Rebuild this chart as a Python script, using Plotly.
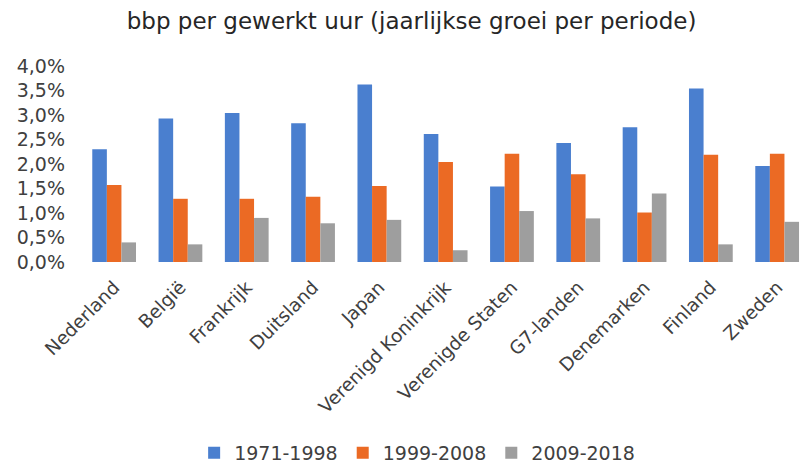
import plotly.graph_objects as go

categories = ["Nederland", "België", "Frankrijk", "Duitsland", "Japan",
              "Verenigd Koninkrijk", "Verenigde Staten", "G7-landen",
              "Denemarken", "Finland", "Zweden"]
s1971_1998 = [2.30, 2.93, 3.04, 2.83, 3.62, 2.61, 1.54, 2.43, 2.75, 3.54, 1.96]
s1999_2008 = [1.57, 1.29, 1.29, 1.33, 1.55, 2.04, 2.21, 1.79, 1.01, 2.19, 2.21]
s2009_2018 = [0.40, 0.36, 0.90, 0.79, 0.86, 0.24, 1.04, 0.89, 1.40, 0.36, 0.82]
series_names = ["1971-1998", "1999-2008", "2009-2018"]
tick_vals = [0, 0.5, 1.0, 1.5, 2.0, 2.5, 3.0, 3.5, 4.0]
tick_text = ["0,0%", "0,5%", "1,0%", "1,5%", "2,0%", "2,5%", "3,0%", "3,5%", "4,0%"]

colors = ["#4A7FCF", "#EB6A24", "#9E9E9E"]
font = "DejaVu Sans, Verdana, sans-serif"

fig = go.Figure()
for name, vals, col in zip(series_names, [s1971_1998, s1999_2008, s2009_2018], colors):
    fig.add_trace(go.Bar(x=categories, y=vals, name=name, marker_color=col,
                         marker_line_width=0))

fig.update_layout(
    width=807, height=464,
    margin=dict(l=81, r=0, t=66, b=202, autoexpand=False),
    paper_bgcolor="white", plot_bgcolor="white",
    barmode="group", bargap=0.34, bargroupgap=0,
    font=dict(family=font, size=18, color="#404040"),
    title=dict(text="bbp per gewerkt uur (jaarlijkse groei per periode)",
               x=0.51, xanchor="center", y=0.955, yanchor="middle",
               font=dict(family=font, size=23, color="#262626")),
    xaxis=dict(range=[-0.5, 10.45], tickangle=-45, showgrid=False,
               showline=False, ticks="", automargin=False, ticklabelstandoff=10,
               tickfont=dict(size=18.5, color="#404040")),
    yaxis=dict(range=[0, 4.0], tickvals=tick_vals, ticktext=tick_text,
               showgrid=False, zeroline=False, showline=False, ticks="",
               automargin=False, ticklabelstandoff=15,
               tickfont=dict(size=19, color="#404040")),
    legend=dict(orientation="h", x=0.463, xanchor="center", y=-0.974, yanchor="middle",
                font=dict(size=19, color="#404040"), itemwidth=30,
                traceorder="normal"),
    showlegend=True,
)
fig.write_html("out.html", post_script="document.body.style.margin='0';",
               config={"displayModeBar": False})
